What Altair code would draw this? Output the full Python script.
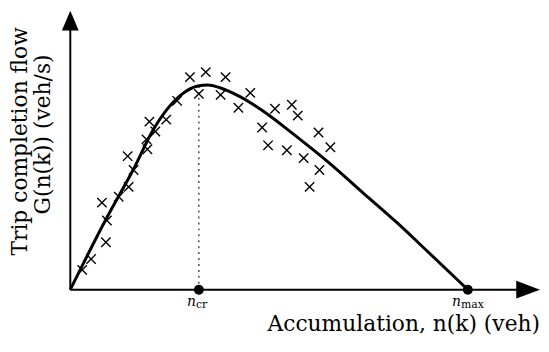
import altair as alt
import pandas as pd

# Macroscopic fundamental diagram (arbitrary units)
curve_n = [0, 37, 64, 84, 96, 112, 129, 139, 152, 172, 196, 226, 262, 296, 329, 362, 402]
curve_G = [0, 73, 122, 162, 180, 197, 206, 207, 204, 195, 180, 157, 128, 98, 69, 38, 0]

# Observed (scattered) data points
obs_n = [12, 21, 36, 37, 32, 49, 59, 64, 58, 78, 77, 86, 80, 97, 108, 121, 137,
         130, 157, 152, 170, 182, 194, 200, 207, 219, 224, 230, 236, 242, 252, 251, 263]
obs_G = [20, 31, 48, 70, 88, 94, 104, 121, 135, 142, 152, 160, 170, 172, 191, 215, 220,
         198, 215, 197, 184, 199, 164, 146, 183, 141, 187, 176, 133, 104, 121, 159, 144]

n_cr = 130
n_max = 402
G_peak = 206

x_title = "Accumulation, n(k) (veh)"
y_title_1 = "Trip completion flow"
y_title_2 = "G(n(k)) (veh/s)"

X_DOMAIN = [-63, 476]
Y_DOMAIN = [-48, 282]
W, H = 539, 330
FONT = "DejaVu Serif"

xs = alt.Scale(domain=X_DOMAIN, nice=False, zero=False)
ys = alt.Scale(domain=Y_DOMAIN, nice=False, zero=False)


def X(f="n"):
    return alt.X(f"{f}:Q", scale=xs, axis=None)


def Y(f="G"):
    return alt.Y(f"{f}:Q", scale=ys, axis=None)


curve_df = pd.DataFrame({"n": curve_n, "G": curve_G})
obs_df = pd.DataFrame({"n": obs_n, "G": obs_G})

axes_df = pd.DataFrame({"n": [0, 0], "n2": [463, 0], "G": [0, 0], "G2": [0, 272]})
axes = alt.Chart(axes_df).mark_rule(color="black", strokeWidth=2).encode(
    x=X(), x2="n2:Q", y=Y(), y2="G2:Q"
)

xarrow = alt.Chart(pd.DataFrame({"n": [463], "G": [0]})).mark_point(
    shape="M -1 -0.75 L 1 0 L -1 0.75 Z", size=576, filled=True, color="black", opacity=1
).encode(x=X(), y=Y())
yarrow = alt.Chart(pd.DataFrame({"n": [0], "G": [272]})).mark_point(
    shape="M -0.85 1 L 0 -1 L 0.85 1 Z", size=400, filled=True, color="black", opacity=1
).encode(x=X(), y=Y())

crit = alt.Chart(pd.DataFrame({"n": [n_cr], "G": [0], "G2": [G_peak]})).mark_rule(
    color="#333333", strokeWidth=1.3, strokeDash=[2, 4]
).encode(x=X(), y=Y(), y2="G2:Q")

curve = alt.Chart(curve_df).mark_line(
    color="black", strokeWidth=3, interpolate="monotone"
).encode(x=X(), y=Y())

obs = alt.Chart(obs_df).mark_point(
    shape="M -1 -1 L 1 1 M -1 1 L 1 -1", size=90, filled=False, color="black",
    strokeWidth=1.4, opacity=1
).encode(x=X(), y=Y())

dots = alt.Chart(pd.DataFrame({"n": [n_cr, n_max], "G": [0, 0]})).mark_circle(
    size=100, color="black", opacity=1
).encode(x=X(), y=Y())

ylab1 = alt.Chart(pd.DataFrame({"n": [-51], "G": [150], "t": [y_title_1]})).mark_text(
    font=FONT, fontSize=22, angle=270, align="center", baseline="middle", color="black"
).encode(x=X(), y=Y(), text="t:N")
ylab2 = alt.Chart(pd.DataFrame({"n": [-28], "G": [157], "t": [y_title_2]})).mark_text(
    font=FONT, fontSize=22, angle=270, align="center", baseline="middle", color="black"
).encode(x=X(), y=Y(), text="t:N")
xlab = alt.Chart(pd.DataFrame({"n": [475], "G": [-42], "t": [x_title]})).mark_text(
    font=FONT, fontSize=22, align="right", baseline="alphabetic", color="black"
).encode(x=X(), y=Y(), text="t:N")

tick_n = alt.Chart(pd.DataFrame({"n": [n_cr - 3, n_max - 7], "G": [-16, -16], "t": ["n", "n"]})).mark_text(
    font=FONT, fontSize=14, fontStyle="italic", align="right", baseline="alphabetic", color="black"
).encode(x=X(), y=Y(), text="t:N")
tick_sub = alt.Chart(pd.DataFrame({"n": [n_cr - 3, n_max - 7], "G": [-19, -19], "t": ["cr", "max"]})).mark_text(
    font=FONT, fontSize=11, align="left", baseline="alphabetic", color="black"
).encode(x=X(), y=Y(), text="t:N")

chart = alt.layer(
    axes, xarrow, yarrow, crit, curve, obs, dots, ylab1, ylab2, xlab, tick_n, tick_sub
).properties(width=W, height=H, padding=0, background="white").configure_view(stroke=None)

chart.save("out.html", embed_options={"renderer": "svg", "actions": False})
